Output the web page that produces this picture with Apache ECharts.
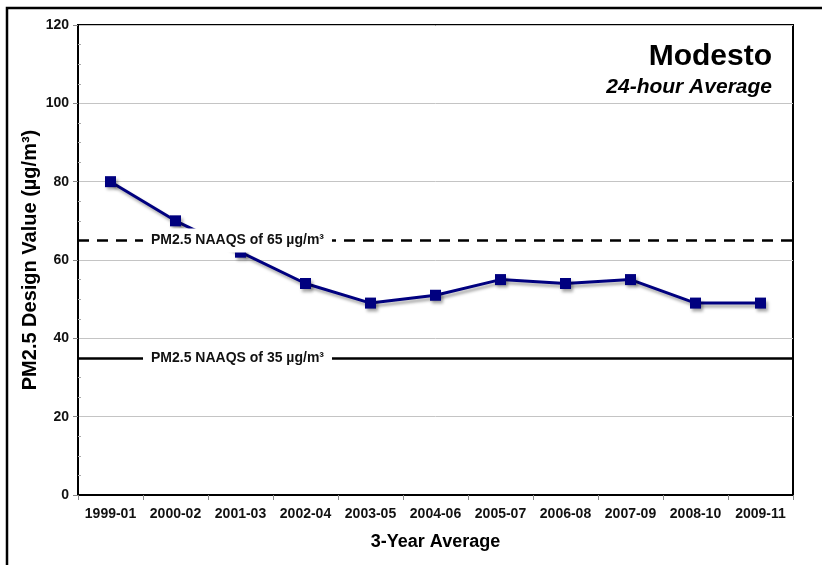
<!DOCTYPE html>
<html>
<head>
<meta charset="utf-8">
<script src="https://cdn.jsdelivr.net/npm/echarts@6/dist/echarts.min.js"></script>
<style>
html,body{margin:0;padding:0;background:#fff;}
#chart{width:822px;height:565px;}
</style>
</head>
<body>
<div id="chart"></div>
<script>
var categories = ['1999-01','2000-02','2001-03','2002-04','2003-05','2004-06','2005-07','2006-08','2007-09','2008-10','2009-11'];
var designValues = [80, 70, 62, 54, 49, 51, 55, 54, 55, 49, 49];
var yMin = 0, yMax = 120, yInterval = 20;
var standardValues = [65, 35];
var standardLabels = ['PM2.5 NAAQS of 65 \u00b5g/m\u00b3', 'PM2.5 NAAQS of 35 \u00b5g/m\u00b3'];
var standardLineTypes = ['dashed', 'solid'];
var labelAnchorCategory = '2001-03';

var FONT = '"Liberation Sans", Arial, sans-serif';
var chart = echarts.init(document.getElementById('chart'), null, {renderer: 'canvas'});

var markLineData = standardValues.map(function (v, i) {
  return {
    yAxis: v,
    lineStyle: {
      color: '#000',
      width: 2.5,
      type: standardLineTypes[i] === 'dashed' ? [11, 8] : 'solid'
    }
  };
});
var markPointData = standardValues.map(function (v, i) {
  return { coord: [labelAnchorCategory, v], value: standardLabels[i] };
});

var option = {
  backgroundColor: '#fff',
  animation: false,
  title: [{
    text: 'Modesto',
    right: 45,
    top: 37,
    textStyle: { fontFamily: FONT, fontSize: 30, fontWeight: 'bold', color: '#000' }
  }, {
    text: '24-hour Average',
    right: 45,
    top: 72,
    textStyle: { fontFamily: FONT, fontSize: 21, fontWeight: 'bold', fontStyle: 'italic', color: '#000' }
  }],
  grid: {
    left: 78, right: 29, top: 25, bottom: 70,
    show: true, borderColor: '#000', borderWidth: 2, backgroundColor: 'transparent'
  },
  xAxis: {
    type: 'category',
    data: categories,
    boundaryGap: true,
    name: '3-Year Average',
    nameLocation: 'middle',
    nameGap: 38,
    nameTextStyle: { fontFamily: FONT, fontSize: 18, fontWeight: 'bold', color: '#000' },
    axisLine: { lineStyle: { color: '#000', width: 2 } },
    axisTick: { show: true, length: 5, alignWithLabel: false, lineStyle: { color: '#888' } },
    axisLabel: { fontFamily: FONT, fontSize: 14, fontWeight: 'bold', color: '#111', margin: 12, interval: 0 },
    splitLine: { show: false }
  },
  yAxis: [{
    type: 'value',
    min: yMin, max: yMax, interval: yInterval,
    name: 'PM2.5 Design Value (\u00b5g/m\u00b3)',
    nameLocation: 'middle',
    nameMoveOverlap: false,
    nameGap: 38,
    nameTextStyle: { fontFamily: FONT, fontSize: 20, fontWeight: 'bold', color: '#000' },
    axisLine: { show: true, lineStyle: { color: '#000', width: 2 } },
    axisTick: { show: true, length: 5, lineStyle: { color: '#888' } },
    axisLabel: { fontFamily: FONT, fontSize: 14, fontWeight: 'bold', color: '#111', margin: 9 },
    splitLine: { show: true, lineStyle: { color: '#c4c4c4', width: 1 } }
  }, {
    type: 'value',
    position: 'right',
    offset: -715,
    min: yMin, max: yMax, interval: yInterval,
    axisLine: { show: false },
    axisLabel: { show: false },
    axisTick: { show: false },
    minorTick: { show: true, splitNumber: 4, length: 3, lineStyle: { color: '#aaa' } },
    splitLine: { show: false }
  }],
  series: [{
    name: 'Design Value',
    type: 'line',
    data: designValues,
    z: 3,
    symbol: 'rect',
    symbolSize: 11,
    lineStyle: {
      color: '#00007f', width: 3,
      shadowColor: 'rgba(0,0,0,0.35)', shadowBlur: 3, shadowOffsetX: 2, shadowOffsetY: 3
    },
    itemStyle: {
      color: '#00007f',
      shadowColor: 'rgba(0,0,0,0.35)', shadowBlur: 3, shadowOffsetX: 2, shadowOffsetY: 3
    }
  }, {
    name: 'NAAQS',
    type: 'line',
    data: [],
    z: 5,
    markLine: {
      silent: true,
      symbol: ['none', 'none'],
      label: { show: false },
      data: markLineData
    },
    markPoint: {
      silent: true,
      symbol: 'rect',
      symbolSize: 1,
      itemStyle: { color: 'rgba(0,0,0,0)' },
      label: {
        show: true,
        position: 'inside',
        offset: [-3, 0],
        formatter: function (p) { return p.value; },
        fontFamily: FONT, fontSize: 14, fontWeight: 'bold', color: '#111',
        backgroundColor: '#fff',
        padding: [5, 8]
      },
      data: markPointData
    }
  }],
  graphic: [{
    type: 'rect',
    silent: true,
    shape: { x: 7, y: 8, width: 840, height: 600 },
    style: { fill: 'none', stroke: '#000', lineWidth: 2.5 }
  }]
};
chart.setOption(option);
</script>
</body>
</html>
